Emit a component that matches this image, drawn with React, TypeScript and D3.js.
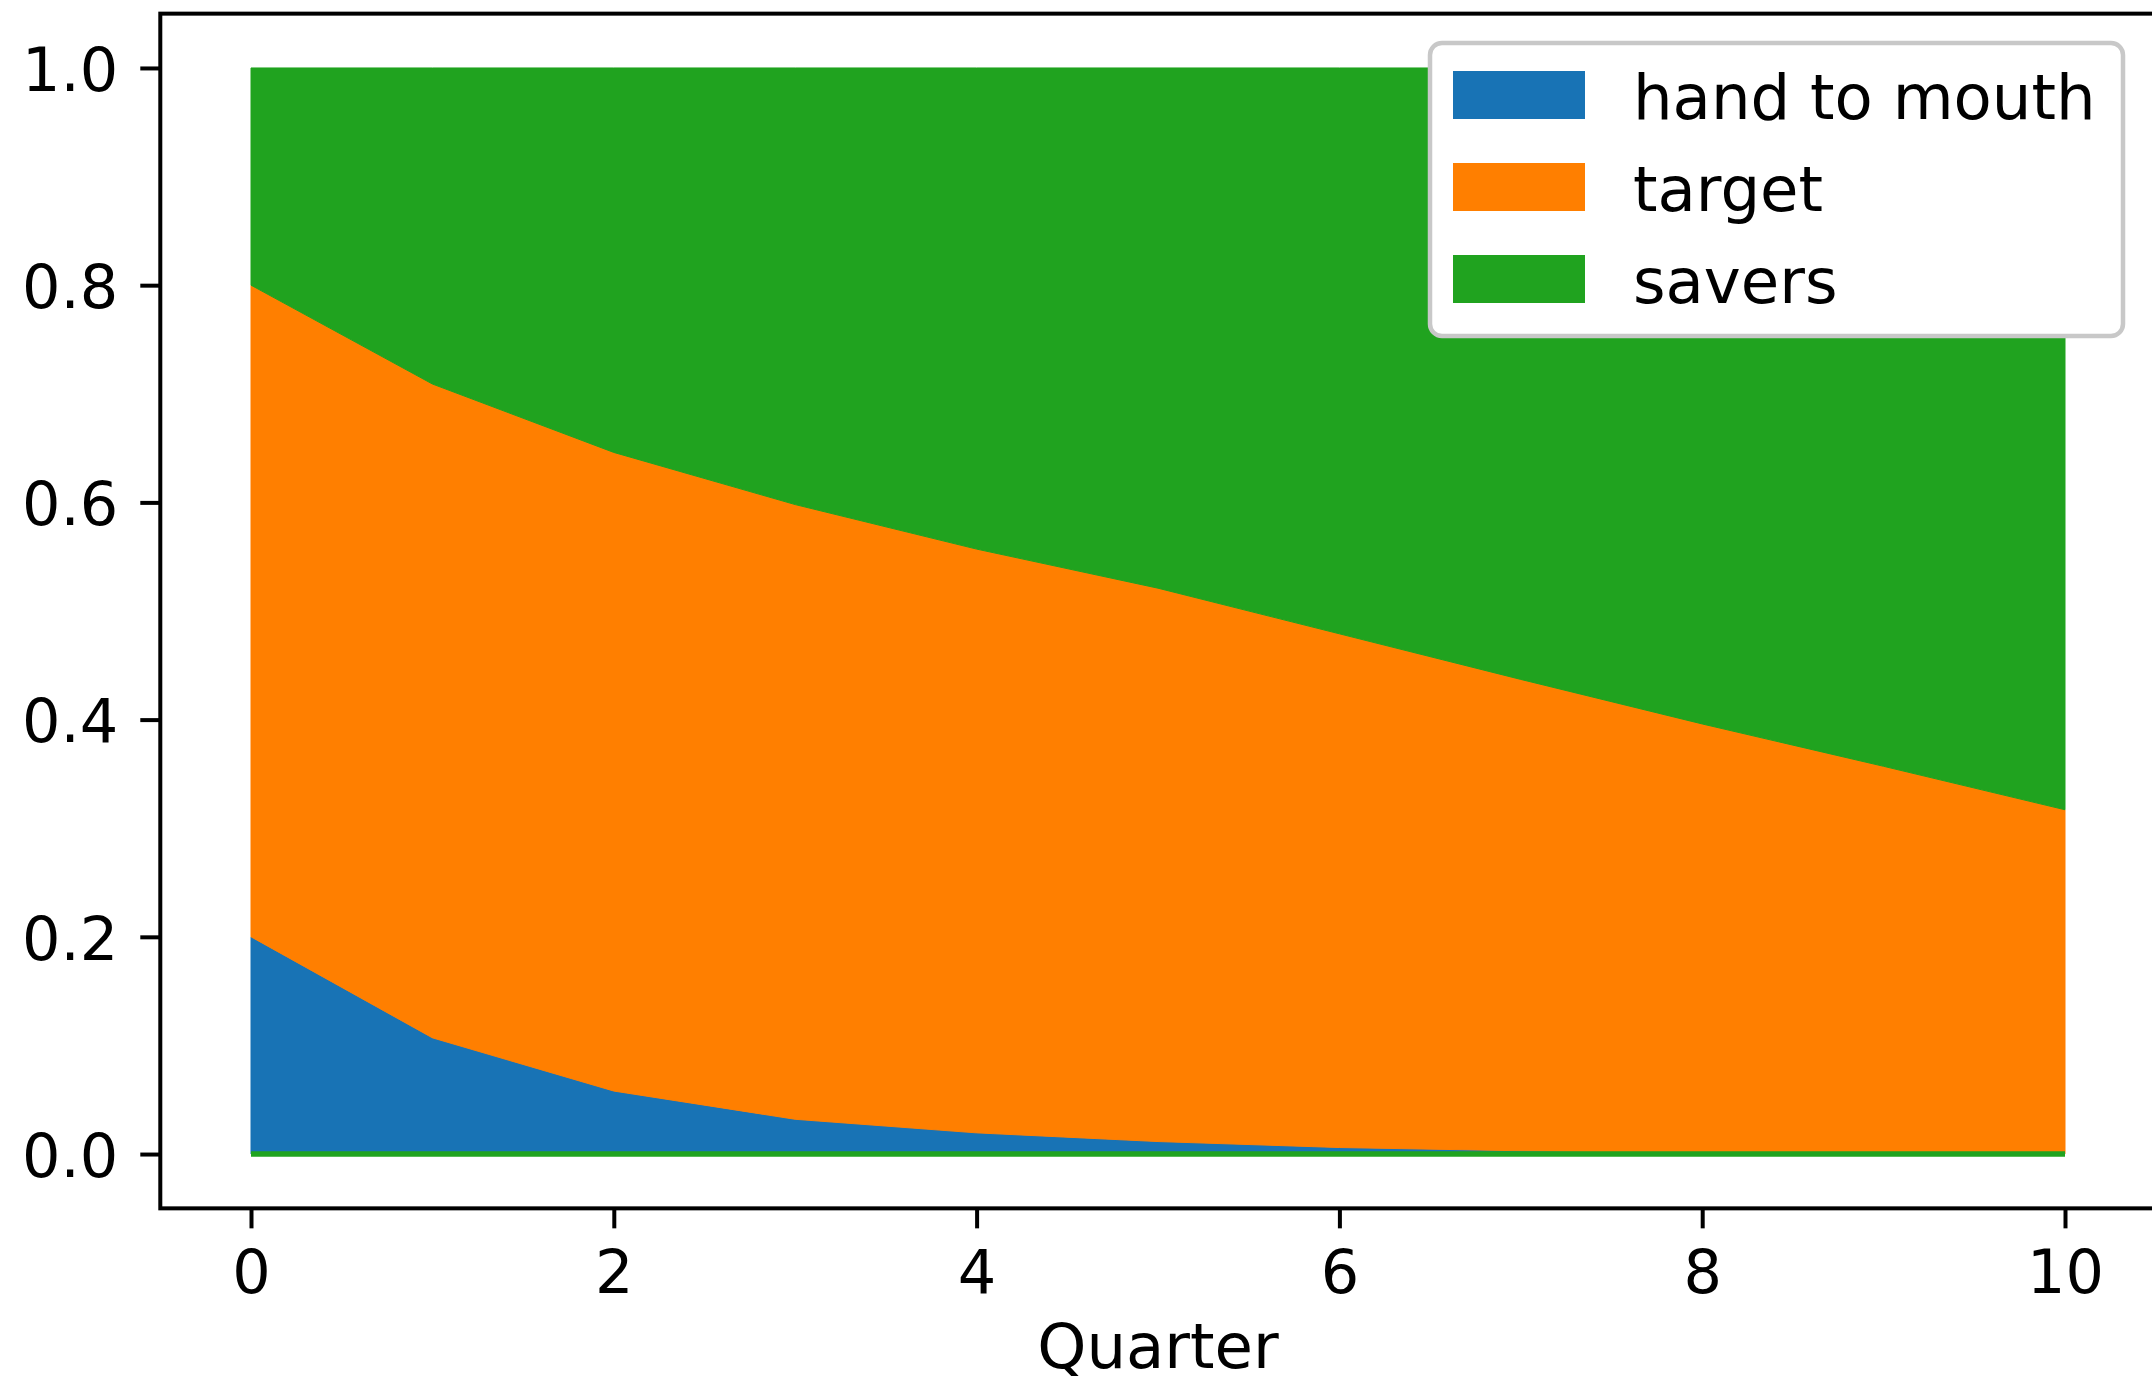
import React, { useEffect, useRef } from 'react';
import * as d3 from 'd3';

// quarters on the x axis
const quarters = [0, 1, 2, 3, 4, 5, 6, 7, 8, 9, 10];

// shares of each group per quarter
const handToMouth = [0.2, 0.107, 0.058, 0.032, 0.0195, 0.0115, 0.006, 0.003, 0.0015, 0.0007, 0.0003];
const target = [0.6, 0.602, 0.588, 0.566, 0.5375, 0.5095, 0.473, 0.434, 0.3945, 0.3563, 0.3167];
const savers = [0.2, 0.291, 0.354, 0.402, 0.443, 0.479, 0.521, 0.563, 0.604, 0.643, 0.683];

const seriesNames = ['hand to mouth', 'target', 'savers'];
const seriesColors = ['#1873b5', '#ff7f00', '#20a31f'];

const xTicks = [0, 2, 4, 6, 8, 10];
const yTicks = [0, 0.2, 0.4, 0.6, 0.8, 1.0];

const WIDTH = 2152;
const HEIGHT = 1381;
const FONT = '"DejaVu Sans", Verdana, sans-serif';
const TICK_FONT = 60.5;
const LABEL_FONT = 62.5;

const App: React.FC = () => {
  const svgRef = useRef<SVGSVGElement>(null);

  useEffect(() => {
    document.body.style.margin = '0';
    const svg = d3.select(svgRef.current);
    svg.selectAll('*').remove();

    const x = d3.scaleLinear().domain([-0.5, 10.5]).range([160.3, 2155.7]);
    const y = d3.scaleLinear().domain([-0.05, 1.05]).range([1208.35, 13.65]);

    const rows = quarters.map((q, i) => ({
      q,
      'hand to mouth': handToMouth[i],
      target: target[i],
      savers: savers[i],
    }));

    const stacked = d3.stack<any>().keys(seriesNames)(rows);

    const area = d3.area<any>()
      .x(d => x(d.data.q))
      .y0(d => y(d[0]))
      .y1(d => y(d[1]));

    svg.append('g')
      .selectAll('path')
      .data(stacked)
      .enter()
      .append('path')
      .attr('d', d => area(d as any) || '')
      .attr('fill', (_d, i) => seriesColors[i])
      .attr('stroke', (_d, i) => seriesColors[i])
      .attr('stroke-width', 1);

    // green baseline drawn along zero
    svg.append('line')
      .attr('x1', x(quarters[0]))
      .attr('x2', x(quarters[quarters.length - 1]))
      .attr('y1', y(0))
      .attr('y2', y(0))
      .attr('stroke', seriesColors[2])
      .attr('stroke-width', 5.5);

    // axes frame
    svg.append('rect')
      .attr('x', x(-0.5))
      .attr('y', y(1.05))
      .attr('width', x(10.5) - x(-0.5))
      .attr('height', y(-0.05) - y(1.05))
      .attr('fill', 'none')
      .attr('stroke', '#000')
      .attr('stroke-width', 4);

    const xAxis = svg.append('g')
      .attr('transform', `translate(0,${y(-0.05)})`)
      .call(d3.axisBottom(x).tickValues(xTicks).tickFormat(d3.format('d')).tickSize(20).tickSizeOuter(0).tickPadding(22));

    const yAxis = svg.append('g')
      .attr('transform', `translate(${x(-0.5)},0)`)
      .call(d3.axisLeft(y).tickValues(yTicks).tickFormat(d3.format('.1f')).tickSize(20).tickSizeOuter(0).tickPadding(22));

    [xAxis, yAxis].forEach(ax => {
      ax.select('.domain').remove();
      ax.attr('font-family', FONT).attr('font-size', TICK_FONT);
      ax.selectAll('.tick line').attr('stroke', '#000').attr('stroke-width', 4);
      ax.selectAll('.tick text').attr('fill', '#000');
    });
    yAxis.selectAll('.tick text').attr('dy', '0.37em');

    // x label
    svg.append('text')
      .attr('x', (x(-0.5) + x(10.5)) / 2)
      .attr('y', 1368)
      .attr('text-anchor', 'middle')
      .attr('font-family', FONT)
      .attr('font-size', LABEL_FONT)
      .attr('fill', '#000')
      .text('Quarter');

    // legend
    const legend = svg.append('g');
    legend.append('rect')
      .attr('x', 1430)
      .attr('y', 43)
      .attr('width', 693)
      .attr('height', 293)
      .attr('rx', 12)
      .attr('fill', '#fff')
      .attr('stroke', '#c8c8c8')
      .attr('stroke-width', 4.5);

    seriesNames.forEach((name, i) => {
      const top = 71 + i * 92;
      legend.append('rect')
        .attr('x', 1453)
        .attr('y', top)
        .attr('width', 132)
        .attr('height', 48)
        .attr('fill', seriesColors[i]);
      legend.append('text')
        .attr('x', 1633)
        .attr('y', top + 48)
        .attr('font-family', FONT)
        .attr('font-size', LABEL_FONT)
        .attr('fill', '#000')
        .text(name);
    });
  }, []);

  return (
    <svg ref={svgRef} width={WIDTH} height={HEIGHT} style={{ display: 'block', background: '#fff' }}></svg>
  );
};

export default App;
